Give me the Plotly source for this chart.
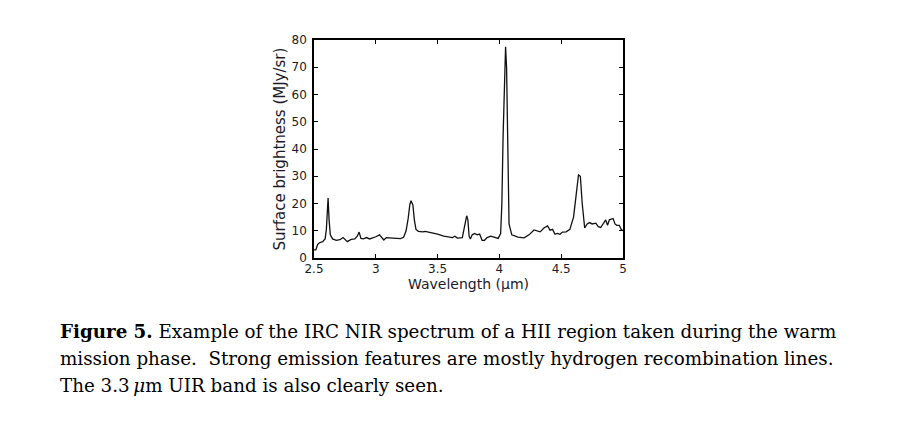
import plotly.graph_objects as go

# IRC NIR spectrum of an HII region
wavelength = [2.500, 2.515, 2.530, 2.545, 2.570, 2.590, 2.600, 2.607, 2.614, 2.622, 2.632,
              2.650, 2.680, 2.710, 2.735, 2.770, 2.800, 2.830, 2.850, 2.865, 2.880,
              2.900, 2.925, 2.950, 2.975, 3.000, 3.030, 3.045, 3.065, 3.085, 3.110,
              3.140, 3.170, 3.200, 3.225, 3.245, 3.262, 3.275, 3.285, 3.300, 3.312,
              3.325, 3.345, 3.380, 3.400, 3.450, 3.500, 3.550, 3.600, 3.620, 3.640,
              3.660, 3.700, 3.720, 3.735, 3.745, 3.755, 3.765, 3.780, 3.800, 3.820,
              3.840, 3.860, 3.880, 3.900, 3.930, 3.960, 3.990, 4.010, 4.020, 4.030,
              4.042, 4.050, 4.058, 4.066, 4.078, 4.100, 4.150, 4.200, 4.240, 4.280,
              4.310, 4.330, 4.360, 4.390, 4.410, 4.430, 4.450, 4.470, 4.490, 4.510,
              4.540, 4.570, 4.600, 4.620, 4.640, 4.655, 4.670, 4.690, 4.710, 4.730,
              4.750, 4.780, 4.800, 4.820, 4.840, 4.860, 4.875, 4.890, 4.920, 4.935,
              4.950, 4.970, 4.985, 5.000]
brightness = [3.0, 3.0, 5.0, 5.6, 6.0, 7.0, 10.5, 18.0, 22.0, 14.0, 8.5,
              7.0, 6.5, 6.7, 7.5, 6.0, 6.8, 7.0, 8.0, 9.5, 7.2,
              7.0, 7.5, 7.0, 7.3, 7.8, 8.5, 7.8, 6.6, 7.5, 7.5,
              7.3, 7.2, 7.1, 7.6, 10.0, 14.5, 19.5, 21.0, 19.5, 14.0,
              10.5, 9.8, 9.6, 9.8, 9.3, 8.8, 8.0, 7.8, 7.5, 8.0,
              7.3, 7.5, 12.0, 15.5, 14.0, 8.0, 7.0, 8.5, 9.0, 8.5,
              8.8, 6.5, 6.5, 7.5, 8.0, 7.5, 7.2, 9.0, 20.0, 45.0,
              72.0, 77.5, 70.0, 40.0, 12.5, 8.5, 7.7, 7.4, 8.5, 10.3,
              10.0, 9.6, 11.0, 11.8, 10.2, 10.5, 8.7, 9.0, 8.7, 9.5,
              9.6, 10.5, 15.0, 22.0, 30.5, 30.0, 20.0, 11.0, 12.5, 13.0,
              12.5, 12.8, 11.5, 11.2, 12.5, 14.0, 12.0, 14.0, 14.5, 12.5,
              12.0, 12.0, 10.5, 10.0]

x_ticks = [2.5, 3, 3.5, 4, 4.5, 5]
x_ticklabels = ["2.5", "3", "3.5", "4", "4.5", "5"]
y_ticks = [0, 10, 20, 30, 40, 50, 60, 70, 80]

caption = [
    "<b>Figure 5.</b> Example of the IRC NIR spectrum of a HII region taken during the warm",
    "mission phase.  Strong emission features are mostly hydrogen recombination lines.",
    "The 3.3\u2009<i>\u03bc</i>m UIR band is also clearly seen.",
]

fig = go.Figure()
fig.add_trace(go.Scatter(x=wavelength, y=brightness, mode="lines",
                         line=dict(color="#111111", width=1.3), showlegend=False))

axis_common = dict(showline=True, linecolor="black", linewidth=1.5, mirror="ticks",
                   ticks="inside", ticklen=4, tickcolor="black", showgrid=False, zeroline=False,
                   tickfont=dict(family="DejaVu Sans", size=12, color="#1a1a2a"))

fig.update_xaxes(range=[2.5, 5], tickvals=x_ticks, ticktext=x_ticklabels,
                 ticklabelstandoff=-1,
                 title=dict(text="Wavelength (\u03bcm)", standoff=0,
                            font=dict(family="DejaVu Sans", size=14, color="#1a1a2a")),
                 **axis_common)
fig.update_yaxes(range=[0, 80], tickvals=y_ticks, ticklabelstandoff=3,
                 title=dict(text="Surface brightness (MJy/sr)", standoff=2,
                            font=dict(family="DejaVu Sans", size=15, color="#1a1a2a")),
                 **axis_common)

line_y = [-0.335, -0.459, -0.583]
for txt, yy in zip(caption, line_y):
    fig.add_annotation(text=txt, xref="paper", yref="paper", x=-0.828, y=yy,
                       xanchor="left", yanchor="middle", showarrow=False,
                       font=dict(family="DejaVu Serif", size=18.3, color="black"))

fig.update_layout(width=920, height=435, margin=dict(l=306, r=305, t=32, b=185),
                  plot_bgcolor="white", paper_bgcolor="white")

fig.write_html("out.html")
